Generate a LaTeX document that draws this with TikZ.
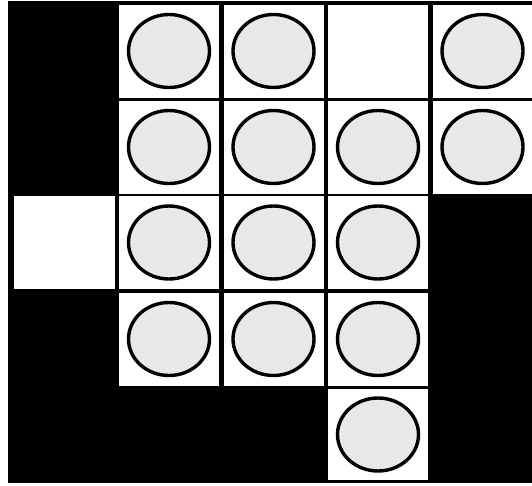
\documentclass[tikz,border=0pt]{standalone}
\tikzset{
  cell/.style={fill=white,minimum width=100pt,minimum height=93pt,inner sep=0pt},
  disc/.style={line width=3.4pt,fill=black!9}
}
\begin{document}
\begin{tikzpicture}[x=1pt,y=-1pt]
\useasboundingbox (0,0) rectangle (532,485);
\fill[black] (8,1) rectangle (532,483);

% row 0
\node[cell] (c01) at (169,51) {};
\node[cell] (c02) at (273.5,51) {};
\node[cell] (c03) at (378,51) {};
\node[cell,minimum width=99pt] (c04) at (482.5,51) {};
% row 1
\node[cell] (c11) at (169,147) {};
\node[cell] (c12) at (273.5,147) {};
\node[cell] (c13) at (378,147) {};
\node[cell,minimum width=99pt] (c14) at (482.5,147) {};
% row 2
\node[cell,minimum width=101pt] (c20) at (64.5,242.5) {};
\node[cell] (c21) at (169,242.5) {};
\node[cell] (c22) at (273.5,242.5) {};
\node[cell] (c23) at (378,242.5) {};
% row 3
\node[cell] (c31) at (169,339) {};
\node[cell] (c32) at (273.5,339) {};
\node[cell] (c33) at (378,339) {};
% row 4
\node[cell,minimum height=91pt] (c43) at (378,434.5) {};

% discs
\foreach \n in {c01,c02,c04,c11,c12,c13,c14,c21,c22,c23,c31,c32,c33,c43}
  \draw[disc] (\n) ellipse (40.5pt and 36.5pt);
\end{tikzpicture}
\end{document}
